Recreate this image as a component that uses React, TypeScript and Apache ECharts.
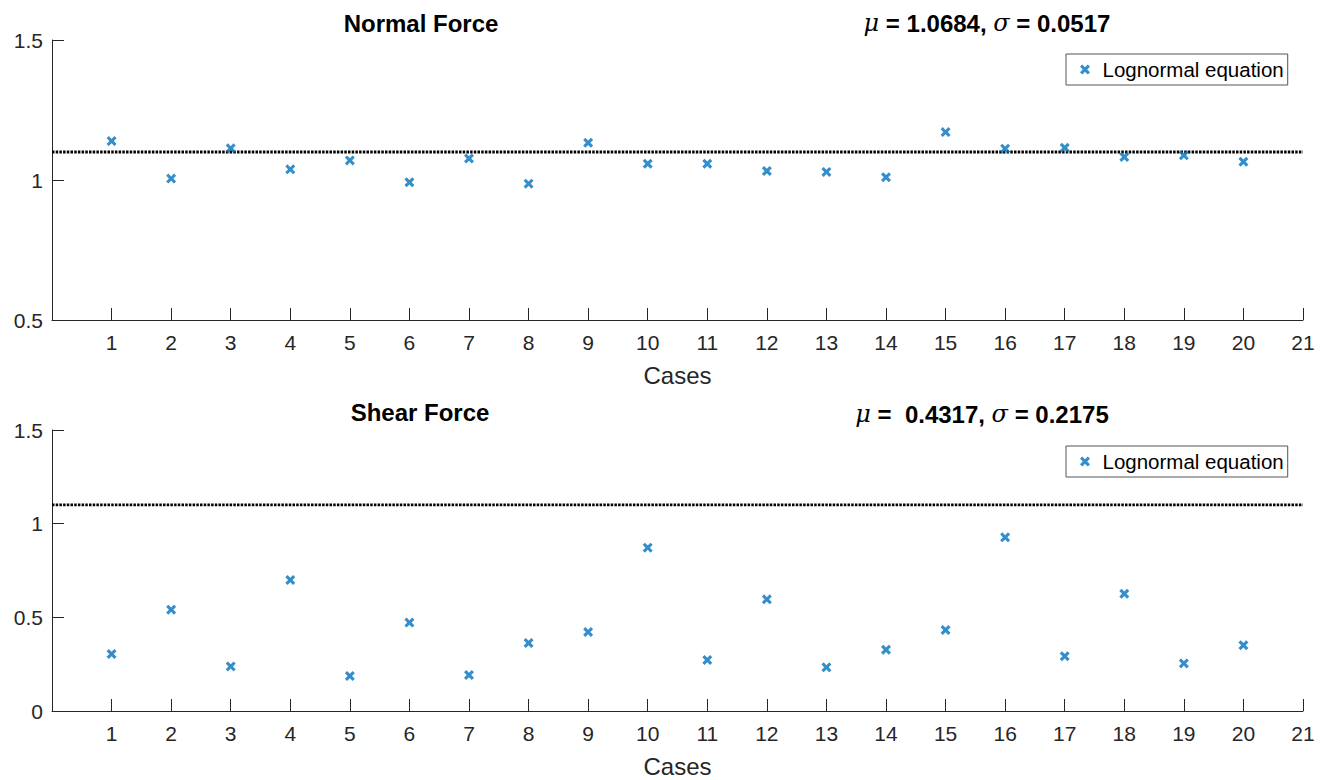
import React, { useEffect, useRef } from "react";
import * as echarts from "echarts";

// Case numbers and the two force ratios per case
const cases = [1, 2, 3, 4, 5, 6, 7, 8, 9, 10, 11, 12, 13, 14, 15, 16, 17, 18, 19, 20];
const normalForce = [
  1.139, 1.005, 1.113, 1.038, 1.07, 0.992, 1.077, 0.987, 1.133, 1.058,
  1.058, 1.032, 1.029, 1.01, 1.171, 1.112, 1.115, 1.082, 1.088, 1.065,
];
const shearForce = [
  0.304, 0.541, 0.238, 0.699, 0.187, 0.472, 0.192, 0.363, 0.422, 0.872,
  0.272, 0.596, 0.233, 0.327, 0.432, 0.927, 0.292, 0.626, 0.254, 0.351,
];
const thresholdValue = 1.1;
const xRange = [0, 21];
const normalYRange = [0.5, 1.5];
const shearYRange = [0, 1.5];
const seriesName = "Lognormal equation";
const normalTitle = "Normal Force";
const shearTitle = "Shear Force";
const normalStats = "{i|μ} = 1.0684, {i|σ} = 0.0517";
const shearStats = "{i|μ} =  0.4317, {i|σ} = 0.2175";

const FONT = "'Liberation Sans', Arial, Helvetica, sans-serif";
const AXIS_COLOR = "#262626";
const MARK_COLOR = "#0072BD";
// Filled "x" marker with thick arms
const CROSS =
  "path://M0,2.2 L2.2,0 L5,2.8 L7.8,0 L10,2.2 L7.2,5 L10,7.8 L7.8,10 L5,7.2 L2.2,10 L0,7.8 L2.8,5 Z";

function xAxisFor(gridIndex: number) {
  return {
    type: "value",
    gridIndex,
    min: xRange[0],
    max: xRange[1],
    interval: 1,
    name: "Cases",
    nameLocation: "middle",
    nameGap: 43,
    nameTextStyle: { color: AXIS_COLOR, fontSize: 24, fontFamily: FONT },
    axisLine: { show: true, onZero: false, lineStyle: { color: AXIS_COLOR, width: 1 } },
    axisTick: { show: true, inside: true, length: 12, lineStyle: { color: AXIS_COLOR } },
    axisLabel: {
      showMinLabel: false,
      margin: 12,
      color: AXIS_COLOR,
      fontSize: 21,
      fontFamily: FONT,
    },
    splitLine: { show: false },
  };
}

function yAxisFor(gridIndex: number, range: number[]) {
  return {
    type: "value",
    gridIndex,
    min: range[0],
    max: range[1],
    interval: 0.5,
    axisLine: { show: true, lineStyle: { color: AXIS_COLOR, width: 1 } },
    axisTick: { show: true, inside: true, length: 12, lineStyle: { color: AXIS_COLOR } },
    axisLabel: { margin: 9, color: AXIS_COLOR, fontSize: 21, fontFamily: FONT },
    splitLine: { show: false },
  };
}

function legendFor(top: number) {
  return {
    data: [seriesName],
    left: 1066,
    top,
    orient: "horizontal",
    itemWidth: 25,
    itemHeight: 10,
    padding: [5, 4, 5, 14],
    borderColor: "#555",
    borderWidth: 1,
    backgroundColor: "#fff",
    selectedMode: false,
    textStyle: { color: "#000", fontSize: 20.5, fontFamily: FONT },
  };
}

function titleText(text: string, x: number, y: number) {
  return {
    type: "text",
    x,
    y,
    style: {
      text,
      align: "center",
      verticalAlign: "middle",
      fill: "#000",
      font: `bold 24px ${FONT}`,
      rich: {
        i: { fontStyle: "italic", fontWeight: "normal", fontSize: 24, fontFamily: "'DejaVu Serif', serif", fill: "#000" },
      },
    },
  };
}

export default function App() {
  const ref = useRef<HTMLDivElement>(null);

  useEffect(() => {
    if (!ref.current) return;
    const chart = echarts.init(ref.current, undefined, { renderer: "svg" });
    const threshold = [
      [xRange[0], thresholdValue],
      [xRange[1], thresholdValue],
    ];
    const scatterStyle = {
      type: "scatter",
      name: seriesName,
      symbol: CROSS,
      symbolSize: 10,
      itemStyle: { color: MARK_COLOR },
      z: 3,
    };
    const dottedStyle = {
      type: "line",
      name: "threshold",
      symbol: "none",
      silent: true,
      lineStyle: { color: "#000", width: 2.8, type: [2.5, 1.2] },
      z: 2,
    };
    chart.setOption({
      animation: false,
      backgroundColor: "#fff",
      grid: [
        { left: 52, right: 30, top: 40, height: 280 },
        { left: 52, right: 30, top: 430, height: 281 },
      ],
      xAxis: [xAxisFor(0), xAxisFor(1)],
      yAxis: [yAxisFor(0, normalYRange), yAxisFor(1, shearYRange)],
      legend: [legendFor(54), legendFor(446)],
      series: [
        { ...dottedStyle, xAxisIndex: 0, yAxisIndex: 0, data: threshold },
        {
          ...scatterStyle,
          xAxisIndex: 0,
          yAxisIndex: 0,
          data: cases.map((c, i) => [c, normalForce[i]]),
        },
        { ...dottedStyle, xAxisIndex: 1, yAxisIndex: 1, data: threshold },
        {
          ...scatterStyle,
          xAxisIndex: 1,
          yAxisIndex: 1,
          data: cases.map((c, i) => [c, shearForce[i]]),
        },
      ],
      graphic: [
        titleText(normalTitle, 421, 23),
        titleText(normalStats, 987, 23),
        titleText(shearTitle, 420, 412),
        titleText(shearStats, 982, 414),
      ],
    });
    return () => chart.dispose();
  }, []);

  return (
    <div
      ref={ref}
      style={{ position: "absolute", left: 0, top: 0, width: 1333, height: 780, background: "#fff" }}
    />
  );
}
